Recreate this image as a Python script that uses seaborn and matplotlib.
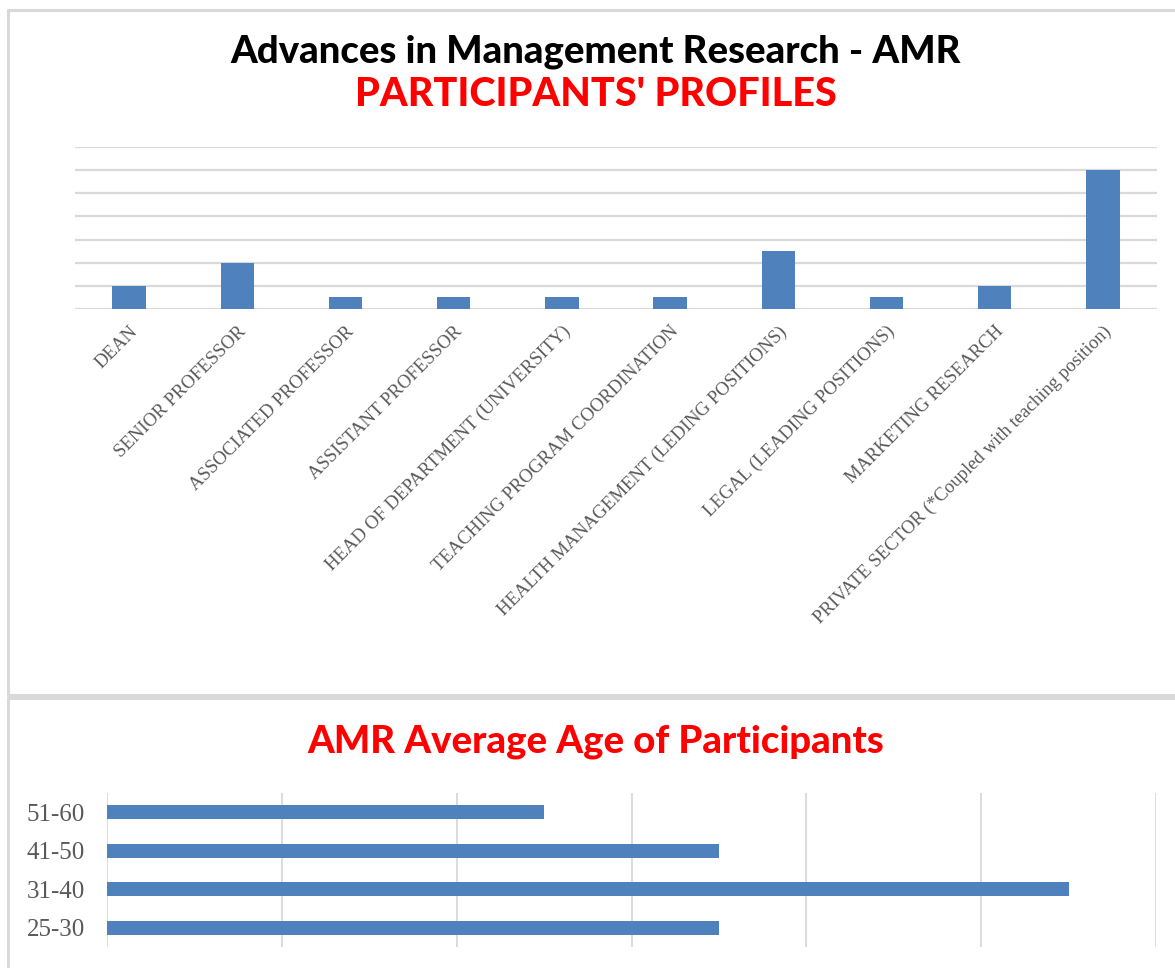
import matplotlib
matplotlib.use("Agg")
import matplotlib.pyplot as plt
import matplotlib.transforms as mtransforms
import seaborn as sns
import pandas as pd
from matplotlib.lines import Line2D

# ---- data ----
roles = ["DEAN", "SENIOR PROFESSOR", "ASSOCIATED PROFESSOR", "ASSISTANT PROFESSOR",
         "HEAD OF DEPARTMENT (UNIVERSITY)", "TEACHING PROGRAM COORDINATION",
         "HEALTH MANAGEMENT (LEDING POSITIONS)", "LEGAL (LEADING POSITIONS)",
         "MARKETING RESEARCH", "PRIVATE SECTOR (*Coupled with teaching position)"]
role_counts = [2, 4, 1, 1, 1, 1, 5, 1, 2, 12]

age_groups = ["51-60", "41-50", "31-40", "25-30"]
age_counts = [5, 7, 11, 7]

title_top = "Advances in Management Research - AMR"
subtitle_top = "PARTICIPANTS' PROFILES"
title_bottom = "AMR Average Age of Participants"

BAR = "#4f81bd"
GRID = "#d9d9d9"
LABEL = "#595959"

sns.set_theme(style="white")
plt.rcParams['font.family'] = ['Lato', 'DejaVu Sans']

W, H = 1175, 968
fig = plt.figure(figsize=(W / 100, H / 100), dpi=100)
fig.patch.set_facecolor("white")

def fx(px):
    return px / W

def fy(py):
    return 1 - py / H

# frames
for (x0, y0, x1, y1) in [(8, 10, 8, 695), (8, 10, W, 10), (8, 695, W, 695),
                         (8, 698, W, 698), (8, 698, 8, H)]:
    fig.add_artist(Line2D([fx(x0), fx(x1)], [fy(y0), fy(y1)], color=GRID, lw=2.2))

# ---- top chart ----
ax1 = fig.add_axes([fx(75), fy(309), fx(1157) - fx(75), fy(147) - fy(309)])
df1 = pd.DataFrame({"role": roles, "count": role_counts})
sns.barplot(data=df1, x="role", y="count", color=BAR, saturation=1, width=0.31,
            linewidth=0, ax=ax1)
ax1.set_ylim(0, 14)
ax1.set_xlim(-0.5, len(roles) - 0.5)
ax1.set_yticks(range(0, 15, 2))
ax1.yaxis.grid(True, color=GRID, lw=1.6)
ax1.set_axisbelow(True)
ax1.set_yticklabels([])
ax1.tick_params(axis="y", length=0)
for s in ax1.spines.values():
    s.set_visible(False)
ax1.set_xlabel("")
ax1.set_ylabel("")
ax1.tick_params(axis="x", length=0, pad=13)
ax1.set_xticks(range(len(roles)))
ax1.set_xticklabels(roles, rotation=45, ha="right", va="center", rotation_mode="anchor",
                    family="Liberation Serif", fontsize=13.5, color=LABEL)
shift = mtransforms.ScaledTranslation(6 / 100, -2 / 100, fig.dpi_scale_trans)
for lab in ax1.get_xticklabels():
    lab.set_transform(lab.get_transform() + shift)

fig.text(0.507, fy(52), title_top, ha="center", va="center", fontsize=27.5,
         fontweight="black", color="black")
fig.text(0.507, fy(95), subtitle_top, ha="center", va="center", fontsize=28.5,
         fontweight="black", color="#ff0000")

# ---- bottom chart ----
ax2 = fig.add_axes([fx(107), fy(947), fx(1156) - fx(107), fy(793) - fy(947)])
df2 = pd.DataFrame({"age": age_groups, "count": age_counts})
sns.barplot(data=df2, y="age", x="count", orient="h", color=BAR, saturation=1,
            width=0.36, linewidth=0, ax=ax2)
ax2.set_xlim(0, 12)
ax2.set_ylim(3.5, -0.5)
ax2.set_xticks(range(0, 13, 2))
ax2.xaxis.grid(True, color=GRID, lw=1.3)
ax2.set_axisbelow(True)
ax2.set_xticklabels([])
ax2.tick_params(axis="x", length=0)
for s in ax2.spines.values():
    s.set_visible(False)
ax2.set_xlabel("")
ax2.set_ylabel("")
ax2.tick_params(axis="y", length=0, pad=16)
ax2.set_yticks(range(len(age_groups)))
ax2.set_yticklabels(age_groups, family="Liberation Serif", fontsize=18, color=LABEL)

fig.text(0.507, fy(742), title_bottom, ha="center", va="center", fontsize=27.5,
         fontweight="black", color="#ff0000")

fig.savefig("out.png", dpi=100, facecolor="white")
